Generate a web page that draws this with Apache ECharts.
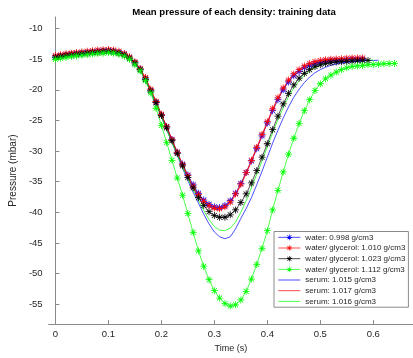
<!DOCTYPE html>
<html>
<head>
<meta charset="utf-8">
<script src="https://cdn.jsdelivr.net/npm/echarts@6/dist/echarts.min.js"></script>
<style>
html,body{margin:0;padding:0;background:#fff;}
#chart{width:413px;height:358px;}
</style>
</head>
<body>
<div id="chart"></div>
<script>
// Time base (s), 0.01 s sampling
const time = [0,0.01,0.02,0.03,0.04,0.05,0.06,0.07,0.08,0.09,
  0.10,0.11,0.12,0.13,0.14,0.15,0.16,0.17,0.18,0.19,
  0.20,0.21,0.22,0.23,0.24,0.25,0.26,0.27,0.28,0.29,
  0.30,0.31,0.32,0.33,0.34,0.35,0.36,0.37,0.38,0.39,
  0.40,0.41,0.42,0.43,0.44,0.45,0.46,0.47,0.48,0.49,
  0.50,0.51,0.52,0.53,0.54,0.55,0.56,0.57,0.58,0.59,
  0.60,0.61,0.62,0.63,0.64];

const seriesNames = [
  'water: 0.998 g/cm3',
  'water/ glycerol: 1.010 g/cm3',
  'water/ glycerol: 1.023 g/cm3',
  'water/ glycerol: 1.112 g/cm3',
  'serum: 1.015 g/cm3',
  'serum: 1.017 g/cm3',
  'serum: 1.016 g/cm3'
];

// water 0.998 (blue, markers)
const water0998 = [-14.6,-14.45,-14.3,-14.2,-14.1,-14.0,-13.9,-13.8,-13.75,-13.65,
  -13.6,-13.7,-13.9,-14.2,-14.8,-15.6,-16.6,-18.2,-20.1,-22.0,
  -24.1,-26.0,-28.1,-30.2,-32.1,-33.9,-35.5,-36.9,-38.0,-38.7,
  -39.1,-39.2,-38.9,-38.1,-36.9,-35.3,-33.5,-31.6,-29.6,-27.5,
  -25.4,-23.4,-21.6,-20.0,-18.7,-17.7,-17.0,-16.4,-16.0,-15.7,
  -15.5,-15.35,-15.25,-15.2,-15.15,-15.1,-15.05,-15.0,-15.0];
// water/glycerol 1.010 (red, markers)
const glyc1010 = [-14.4,-14.25,-14.1,-14.0,-13.9,-13.8,-13.7,-13.6,-13.5,-13.45,
  -13.4,-13.5,-13.7,-14.05,-14.6,-15.4,-16.5,-18.0,-19.9,-21.9,
  -24.0,-26.0,-28.1,-30.2,-32.2,-34.0,-35.7,-37.1,-38.2,-38.9,
  -39.3,-39.4,-39.1,-38.3,-37.0,-35.4,-33.5,-31.5,-29.4,-27.3,
  -25.2,-23.1,-21.3,-19.7,-18.4,-17.4,-16.7,-16.1,-15.7,-15.4,
  -15.2,-15.1,-15.0,-14.95,-14.9,-14.85,-14.8,-14.8,-14.8];
// water/glycerol 1.023 (black, markers)
const glyc1023 = [-14.7,-14.55,-14.4,-14.3,-14.2,-14.1,-14.0,-13.9,-13.85,-13.75,
  -13.7,-13.8,-14.0,-14.3,-14.8,-15.6,-16.7,-18.3,-20.2,-22.1,
  -24.2,-26.2,-28.3,-30.4,-32.4,-34.3,-36.0,-37.6,-38.9,-39.9,
  -40.5,-40.8,-40.8,-40.4,-39.6,-38.4,-37.0,-35.2,-33.2,-31.0,
  -28.8,-26.5,-24.3,-22.3,-20.6,-19.2,-18.1,-17.3,-16.7,-16.2,
  -15.9,-15.7,-15.55,-15.45,-15.4,-15.35,-15.3,-15.25,-15.2,-15.2];
// water/glycerol 1.112 (green, markers)
const glyc1112 = [-15.0,-14.85,-14.7,-14.55,-14.45,-14.35,-14.25,-14.15,-14.05,-14.0,
  -13.95,-14.0,-14.2,-14.5,-15.0,-15.9,-16.9,-18.5,-20.5,-23.0,
  -25.8,-28.6,-31.5,-34.4,-37.2,-40.2,-43.3,-46.3,-48.8,-51.0,
  -52.8,-54.0,-54.9,-55.3,-55.1,-54.3,-52.9,-50.9,-48.5,-45.9,
  -43.0,-39.6,-36.4,-33.4,-30.5,-27.9,-25.5,-23.4,-21.6,-20.1,
  -19.0,-18.2,-17.6,-17.1,-16.7,-16.4,-16.2,-16.1,-16.0,-15.9,
  -15.85,-15.8,-15.75,-15.7,-15.7];
// serum 1.015 (blue line)
const serum1015 = [-14.7,-14.55,-14.4,-14.3,-14.2,-14.1,-14.0,-13.9,-13.85,-13.75,
  -13.7,-13.8,-14.0,-14.3,-14.9,-15.7,-16.8,-18.4,-20.3,-22.3,
  -24.4,-26.5,-28.6,-30.7,-32.8,-34.8,-36.7,-38.5,-40.3,-41.9,
  -43.2,-44.0,-44.3,-44.0,-42.7,-41.0,-39.4,-37.6,-35.5,-33.3,
  -31.0,-28.7,-26.6,-24.6,-22.8,-21.2,-19.9,-18.8,-17.9,-17.2,
  -16.7,-16.3,-16.0,-15.8,-15.6,-15.5,-15.4,-15.3,-15.25,-15.2,
  -15.2,-15.15];
// serum 1.017 (red line)
const serum1017 = [-14.5,-14.35,-14.2,-14.1,-14.0,-13.9,-13.8,-13.7,-13.6,-13.55,
  -13.5,-13.6,-13.8,-14.1,-14.7,-15.5,-16.6,-18.1,-20.0,-22.0,
  -24.1,-26.1,-28.2,-30.3,-32.3,-34.2,-35.9,-37.3,-38.4,-39.1,
  -39.5,-39.6,-39.3,-38.5,-37.2,-35.6,-33.7,-31.7,-29.6,-27.5,
  -25.4,-23.3,-21.5,-19.9,-18.6,-17.6,-16.9,-16.3,-15.9,-15.6,
  -15.4,-15.25,-15.15,-15.1,-15.05,-15.0,-14.95,-14.95,-14.9];
// serum 1.016 (green line)
const serum1016 = [-14.9,-14.7,-14.55,-14.45,-14.35,-14.25,-14.15,-14.05,-14.0,-13.9,
  -13.85,-13.9,-14.1,-14.4,-14.9,-15.7,-16.8,-18.4,-20.3,-22.3,
  -24.4,-26.5,-28.6,-30.6,-32.6,-34.5,-36.3,-38.0,-39.7,-41.2,
  -42.3,-42.9,-43.0,-42.6,-41.6,-40.0,-38.1,-36.0,-33.8,-31.6,
  -29.3,-27.0,-24.9,-22.9,-21.1,-19.7,-18.5,-17.6,-16.9,-16.4,
  -16.0,-15.7,-15.5,-15.4,-15.3,-15.25,-15.2,-15.2,-15.15,-15.15,
  -15.1];

const xTicks = [0,0.1,0.2,0.3,0.4,0.5,0.6];
const yTicks = [-55,-50,-45,-40,-35,-30,-25,-20,-15,-10];

const asterisk = 'path://M0,8.9L20,8.9L20,11.1L0,11.1Z M8.9,0L11.1,0L11.1,20L8.9,20Z M2.1,3.6L3.6,2.1L17.9,16.4L16.4,17.9Z M16.4,2.1L17.9,3.6L3.6,17.9L2.1,16.4Z';

function pairs(vals){ return vals.map((v,i)=>[time[i],v]); }

function markerSeries(name,vals,color){
  return {name:name,type:'line',data:pairs(vals),symbol:asterisk,symbolSize:7,
    showSymbol:true,showAllSymbol:true,
    lineStyle:{color:color,width:0.7},itemStyle:{color:color},
    emphasis:{disabled:true}};
}
function plainSeries(name,vals,color){
  return {name:name,type:'line',data:pairs(vals),showSymbol:false,symbol:'none',
    lineStyle:{color:color,width:0.7},itemStyle:{color:color},
    emphasis:{disabled:true}};
}

const chart = echarts.init(document.getElementById('chart'),null,{renderer:'canvas'});
const axisColor = '#8a8a8a';
const labelColor = '#262626';
const fontFam = '"Liberation Sans", Arial, Helvetica, sans-serif';

const legendData = seriesNames.map((n,i)=> i<4 ? {name:n}
  : {name:n, itemStyle:{opacity:0}});

chart.setOption({
  animation:false,
  backgroundColor:'#fff',
  title:{text:'Mean pressure of each density: training data',left:229,top:2,textAlign:'center',
    textStyle:{fontSize:9.6,fontWeight:'bold',color:'#000',fontFamily:fontFam}},
  grid:{left:38,top:17,right:0,bottom:32,containLabel:false},
  xAxis:{type:'value',min:-0.0128,max:0.675,
    name:'Time (s)',nameLocation:'middle',nameGap:17,
    nameTextStyle:{fontSize:9,color:labelColor,fontFamily:fontFam},
    axisLine:{show:true,lineStyle:{color:axisColor,width:1}},
    axisTick:{show:true,inside:true,length:4,customValues:xTicks,lineStyle:{color:axisColor}},
    axisLabel:{customValues:xTicks,fontSize:9.5,color:labelColor,fontFamily:fontFam,margin:5,
      formatter:v=>String(Math.round(v*10)/10)},
    splitLine:{show:false}},
  yAxis:{type:'value',min:-58.25,max:-8.1,
    name:'Pressure (mbar)',nameLocation:'middle',nameGap:25,nameRotate:90,
    nameTextStyle:{fontSize:10,color:labelColor,fontFamily:fontFam},
    axisLine:{show:true,lineStyle:{color:axisColor,width:1}},
    axisTick:{show:true,inside:true,length:4,customValues:yTicks,lineStyle:{color:axisColor}},
    axisLabel:{customValues:yTicks,fontSize:9.5,color:labelColor,fontFamily:fontFam,margin:6},
    splitLine:{show:false}},
  legend:{orient:'vertical',left:274,top:231.5,
    data:legendData,
    itemWidth:22,itemHeight:7,itemGap:0,
    padding:[0.5,3,0.5,4],
    borderColor:'#8a8a8a',borderWidth:1,backgroundColor:'#fff',
    lineStyle:{width:0.7},
    textStyle:{fontSize:8,lineHeight:10.67,color:labelColor,fontFamily:fontFam},
    selectedMode:false},
  series:[
    markerSeries(seriesNames[0],water0998,'#0000ff'),
    markerSeries(seriesNames[1],glyc1010,'#ff0000'),
    markerSeries(seriesNames[2],glyc1023,'#000000'),
    markerSeries(seriesNames[3],glyc1112,'#00ff00'),
    plainSeries(seriesNames[4],serum1015,'#0000ff'),
    plainSeries(seriesNames[5],serum1017,'#ff0000'),
    plainSeries(seriesNames[6],serum1016,'#00ff00')
  ]
});
</script>
</body>
</html>
